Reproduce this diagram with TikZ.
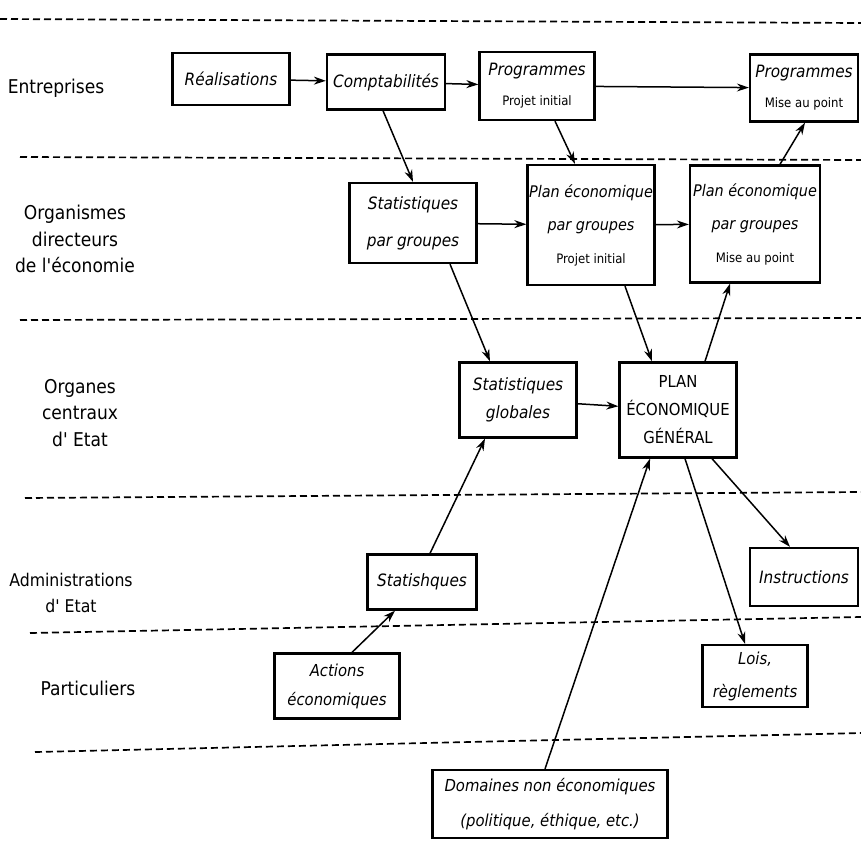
\documentclass[tikz,border=0pt]{standalone}
\usepackage{fontspec}
\setmainfont{DejaVu Sans Condensed}
\newfontfamily\labfont{DejaVu Sans Condensed}
\newcommand\smtxt[1]{{\fontsize{13}{15}\selectfont\upshape #1}}
\usetikzlibrary{arrows.meta,calc}
\begin{document}
\begin{tikzpicture}[x=1pt,y=-1pt,
  box/.style={draw,line width=2.3pt,align=center,inner sep=1pt,font=\fontsize{17}{30}\selectfont\itshape},
  pbox/.style={box,font=\fontsize{16}{33}\selectfont\itshape},
  arr/.style={line width=1.5pt,-{Stealth[length=12pt,width=8pt]}},
  sep/.style={line width=1.7pt,dash pattern=on 7pt off 4pt},
  lab/.style={align=center,font=\fontsize{19}{26.5}\selectfont\labfont}]
\useasboundingbox (0,0) rectangle (861,840);
% separators
\draw[sep] (0,19) -- (861,23);
\draw[sep] (20,157) -- (861,160);
\draw[sep] (20,320) -- (861,318);
\draw[sep] (25,498) -- (861,492);
\draw[sep] (30,633) -- (861,617);
\draw[sep] (35,752) -- (861,733);
% row labels
\node[lab] (l1) at (56,88) {Entreprises};
\node[lab] (l2) at (75,239) {Organismes\\directeurs\\de l'économie};
\node[lab] (l3) at (80,413) {Organes\\centraux\\d' Etat};
\node[lab,font=\fontsize{17.5}{26.5}\selectfont\labfont] (l4) at (71,593) {Administrations\\d' Etat};
\node[lab] (l5) at (88,688) {Particuliers};
% boxes
\node[box,minimum width=117pt,minimum height=52pt] (real) at (231,79) {Réalisations};
\node[box,minimum width=118pt,minimum height=55pt] (compta) at (386,82) {Comptabilités};
\node[box,minimum width=115pt,minimum height=68pt] (prog1) at (537,86) {Programmes\\\smtxt{Projet initial}};
\node[box,minimum width=108pt,minimum height=67pt] (prog2) at (804,88) {Programmes\\\smtxt{Mise au point}};
\node[box,minimum width=127pt,minimum height=80pt,font=\fontsize{17}{37}\selectfont\itshape] (statg) at (413,223) {Statistiques\\par groupes};
\node[pbox,minimum width=127pt,minimum height=120pt] (plan1) at (591,225) {Plan économique\\par groupes\\\smtxt{Projet initial}};
\node[pbox,minimum width=130pt,minimum height=117pt] (plan2) at (755,224) {Plan économique\\par groupes\\\smtxt{Mise au point}};
\node[box,minimum width=117pt,minimum height=75pt,font=\fontsize{17}{28}\selectfont\itshape] (statglob) at (518,400) {Statistiques\\globales};
\node[box,minimum width=117pt,minimum height=95pt,font=\fontsize{16.5}{28}\selectfont\upshape] (plan) at (678,410) {PLAN\\ÉCONOMIQUE\\GÉNÉRAL};
\node[box,minimum width=109pt,minimum height=55pt] (stats) at (422,582) {Statishques};
\node[box,minimum width=108pt,minimum height=58pt] (instr) at (804,577) {Instructions};
\node[box,minimum width=125pt,minimum height=65pt,font=\fontsize{16.5}{29}\selectfont\itshape] (actions) at (337,686) {Actions\\économiques};
\node[box,minimum width=105pt,minimum height=62pt,font=\fontsize{16.5}{33}\selectfont\itshape] (lois) at (755,676) {Lois,\\règlements};
\node[box,minimum width=235pt,minimum height=68pt,font=\fontsize{16.5}{35}\selectfont\itshape] (dom) at (550,804) {Domaines non économiques\\(politique, éthique, etc.)};
% arrows
\draw[arr] (real) -- (compta);
\draw[arr] (compta) -- (prog1);
\draw[arr] (prog1) -- (prog2);
\draw[arr] ($(compta.south)+(-3,0)$) -- (statg.north);
\draw[arr] ($(prog1.south)+(18,0)$) -- ($(plan1.north)+(-16,0)$);
\draw[arr] (statg) -- (plan1);
\draw[arr] (plan1) -- (plan2);
\draw[arr] ($(plan2.north)+(25,0)$) -- ($(prog2.south)+(1,0)$);
\draw[arr] ($(statg.south)+(37,0)$) -- ($(statglob.north)+(-28,0)$);
\draw[arr] ($(plan1.south)+(34,0)$) -- ($(plan.north)+(-26,0)$);
\draw[arr] ($(plan.north)+(27,0)$) -- ($(plan2.south)+(-25,0)$);
\draw[arr] (statglob) -- (plan);
\draw[arr] ($(stats.north)+(8,0)$) -- ($(statglob.south)+(-33,0)$);
\draw[arr] ($(actions.north)+(15,0)$) -- ($(stats.south)+(-27,0)$);
\draw[arr] ($(dom.north)+(-5,0)$) -- ($(plan.south)+(-28,0)$);
\draw[arr] ($(plan.south)+(7,0)$) -- ($(lois.north)+(-10,0)$);
\draw[arr] ($(plan.south)+(34,0)$) -- ($(instr.north)+(-14,0)$);
\end{tikzpicture}
\end{document}
